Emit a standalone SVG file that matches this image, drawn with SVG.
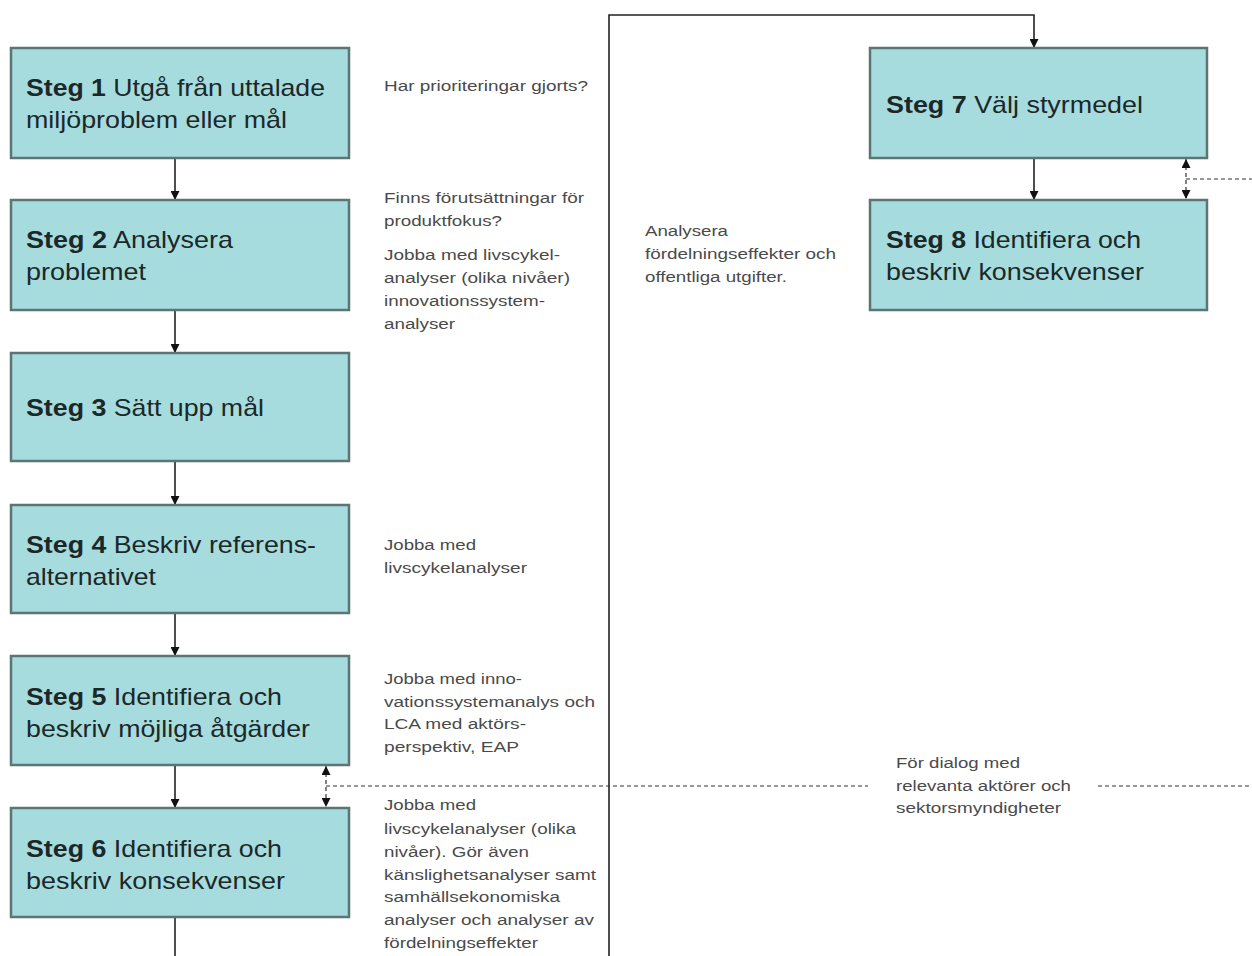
<svg xmlns="http://www.w3.org/2000/svg" width="1252" height="956" viewBox="0 0 1252 956">
<style>
.box{fill:#a7dcdf;stroke:#5b7474;stroke-width:2.5}
.bt{font-family:"Liberation Sans",Arial,sans-serif;font-size:24px;fill:#1c2828}
.b{font-weight:bold}
.st{font-family:"Liberation Sans",Arial,sans-serif;font-size:14px;fill:#4a4a4a}
.ln{stroke:#222;stroke-width:1.6;fill:none}
.ds{stroke:#333;stroke-width:1.2;stroke-dasharray:4 3;fill:none}
</style>
<defs>
<marker id="ah" viewBox="0 0 10 10" refX="10" refY="5" markerWidth="9" markerHeight="9" markerUnits="userSpaceOnUse" orient="auto"><path d="M0,0 L10,5 L0,10 z" fill="#111"/></marker>
<marker id="as" viewBox="0 0 10 10" refX="0" refY="5" markerWidth="9" markerHeight="9" markerUnits="userSpaceOnUse" orient="auto"><path d="M10,0 L0,5 L10,10 z" fill="#111"/></marker>
</defs>
<rect width="1252" height="956" fill="#ffffff"/>
<g id="connectors">
<line class="ln" x1="175" y1="158" x2="175" y2="200" marker-end="url(#ah)"/>
<line class="ln" x1="175" y1="310" x2="175" y2="353" marker-end="url(#ah)"/>
<line class="ln" x1="175" y1="461" x2="175" y2="505" marker-end="url(#ah)"/>
<line class="ln" x1="175" y1="613" x2="175" y2="656" marker-end="url(#ah)"/>
<line class="ln" x1="175" y1="765" x2="175" y2="808" marker-end="url(#ah)"/>
<line class="ln" x1="175" y1="917" x2="175" y2="956"/>
<polyline class="ln" points="609,956 609,15 1034,15 1034,48" marker-end="url(#ah)"/>
<line class="ln" x1="1034" y1="158" x2="1034" y2="200" marker-end="url(#ah)"/>
<line class="ds" x1="326" y1="766" x2="326" y2="807" marker-start="url(#as)" marker-end="url(#ah)"/>
<line class="ds" x1="326" y1="786" x2="868" y2="786"/>
<line class="ds" x1="1098" y1="786" x2="1252" y2="786"/>
<line class="ds" x1="1186" y1="159" x2="1186" y2="199" marker-start="url(#as)" marker-end="url(#ah)"/>
<line class="ds" x1="1186" y1="179" x2="1252" y2="179"/>
</g>
<g id="steg1"><rect class="box" x="11" y="48" width="338" height="110"/>
<text class="bt" x="26" y="96" textLength="299" lengthAdjust="spacingAndGlyphs"><tspan class="b">Steg 1</tspan> Utgå från uttalade</text>
<text class="bt" x="26" y="128" textLength="261" lengthAdjust="spacingAndGlyphs">miljöproblem eller mål</text></g>
<g id="steg2"><rect class="box" x="11" y="200" width="338" height="110"/>
<text class="bt" x="26" y="248" textLength="207" lengthAdjust="spacingAndGlyphs"><tspan class="b">Steg 2</tspan> Analysera</text>
<text class="bt" x="26" y="280" textLength="120" lengthAdjust="spacingAndGlyphs">problemet</text></g>
<g id="steg3"><rect class="box" x="11" y="353" width="338" height="108"/>
<text class="bt" x="26" y="416" textLength="238" lengthAdjust="spacingAndGlyphs"><tspan class="b">Steg 3</tspan> Sätt upp mål</text></g>
<g id="steg4"><rect class="box" x="11" y="505" width="338" height="108"/>
<text class="bt" x="26" y="553" textLength="290" lengthAdjust="spacingAndGlyphs"><tspan class="b">Steg 4</tspan> Beskriv referens-</text>
<text class="bt" x="26" y="585" textLength="130" lengthAdjust="spacingAndGlyphs">alternativet</text></g>
<g id="steg5"><rect class="box" x="11" y="656" width="338" height="109"/>
<text class="bt" x="26" y="705" textLength="256" lengthAdjust="spacingAndGlyphs"><tspan class="b">Steg 5</tspan> Identifiera och</text>
<text class="bt" x="26" y="737" textLength="284" lengthAdjust="spacingAndGlyphs">beskriv möjliga åtgärder</text></g>
<g id="steg6"><rect class="box" x="11" y="808" width="338" height="109"/>
<text class="bt" x="26" y="857" textLength="256" lengthAdjust="spacingAndGlyphs"><tspan class="b">Steg 6</tspan> Identifiera och</text>
<text class="bt" x="26" y="889" textLength="259" lengthAdjust="spacingAndGlyphs">beskriv konsekvenser</text></g>
<g id="steg7"><rect class="box" x="870" y="48" width="337" height="110"/>
<text class="bt" x="886" y="113" textLength="257" lengthAdjust="spacingAndGlyphs"><tspan class="b">Steg 7</tspan> Välj styrmedel</text></g>
<g id="steg8"><rect class="box" x="870" y="200" width="337" height="110"/>
<text class="bt" x="886" y="248" textLength="255" lengthAdjust="spacingAndGlyphs"><tspan class="b">Steg 8</tspan> Identifiera och</text>
<text class="bt" x="886" y="280" textLength="258" lengthAdjust="spacingAndGlyphs">beskriv konsekvenser</text></g>
<g id="note1"><text class="st" x="384" y="91" textLength="204" lengthAdjust="spacingAndGlyphs">Har prioriteringar gjorts?</text></g>
<g id="note2">
<text class="st" x="384" y="203" textLength="200" lengthAdjust="spacingAndGlyphs">Finns förutsättningar för</text>
<text class="st" x="384" y="226" textLength="118" lengthAdjust="spacingAndGlyphs">produktfokus?</text>
<text class="st" x="384" y="260" textLength="176" lengthAdjust="spacingAndGlyphs">Jobba med livscykel-</text>
<text class="st" x="384" y="283" textLength="186" lengthAdjust="spacingAndGlyphs">analyser (olika nivåer)</text>
<text class="st" x="384" y="306" textLength="161" lengthAdjust="spacingAndGlyphs">innovationssystem-</text>
<text class="st" x="384" y="329" textLength="71" lengthAdjust="spacingAndGlyphs">analyser</text></g>
<g id="note4">
<text class="st" x="384" y="550" textLength="92" lengthAdjust="spacingAndGlyphs">Jobba med</text>
<text class="st" x="384" y="573" textLength="143" lengthAdjust="spacingAndGlyphs">livscykelanalyser</text></g>
<g id="note5">
<text class="st" x="384" y="684" textLength="138" lengthAdjust="spacingAndGlyphs">Jobba med inno-</text>
<text class="st" x="384" y="707" textLength="211" lengthAdjust="spacingAndGlyphs">vationssystemanalys och</text>
<text class="st" x="384" y="729" textLength="142" lengthAdjust="spacingAndGlyphs">LCA med aktörs-</text>
<text class="st" x="384" y="752" textLength="135" lengthAdjust="spacingAndGlyphs">perspektiv, EAP</text></g>
<g id="note6">
<text class="st" x="384" y="810" textLength="92" lengthAdjust="spacingAndGlyphs">Jobba med</text>
<text class="st" x="384" y="834" textLength="192" lengthAdjust="spacingAndGlyphs">livscykelanalyser (olika</text>
<text class="st" x="384" y="857" textLength="145" lengthAdjust="spacingAndGlyphs">nivåer). Gör även</text>
<text class="st" x="384" y="880" textLength="212" lengthAdjust="spacingAndGlyphs">känslighetsanalyser samt</text>
<text class="st" x="384" y="902" textLength="176" lengthAdjust="spacingAndGlyphs">samhällsekonomiska</text>
<text class="st" x="384" y="925" textLength="210" lengthAdjust="spacingAndGlyphs">analyser och analyser av</text>
<text class="st" x="384" y="948" textLength="154" lengthAdjust="spacingAndGlyphs">fördelningseffekter</text></g>
<g id="note7">
<text class="st" x="645" y="236" textLength="83" lengthAdjust="spacingAndGlyphs">Analysera</text>
<text class="st" x="645" y="259" textLength="191" lengthAdjust="spacingAndGlyphs">fördelningseffekter och</text>
<text class="st" x="645" y="282" textLength="142" lengthAdjust="spacingAndGlyphs">offentliga utgifter.</text></g>
<g id="dialog">
<text class="st" x="896" y="768" textLength="124" lengthAdjust="spacingAndGlyphs">För dialog med</text>
<text class="st" x="896" y="791" textLength="175" lengthAdjust="spacingAndGlyphs">relevanta aktörer och</text>
<text class="st" x="896" y="813" textLength="165" lengthAdjust="spacingAndGlyphs">sektorsmyndigheter</text></g>
</svg>
